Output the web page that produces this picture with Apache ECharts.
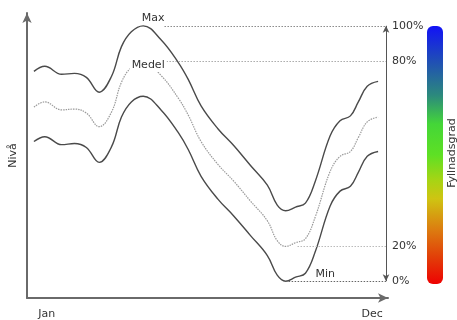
<!DOCTYPE html>
<html>
<head>
<meta charset="utf-8">
<script src="https://cdn.jsdelivr.net/npm/echarts@6/dist/echarts.min.js"></script>
<style>html,body{margin:0;padding:0;background:#fff}#c{width:457px;height:320px}</style>
</head>
<body>
<div id="c"></div>
<script>
// Day of year for each sampled point
const days = [7, 18, 35, 48, 60, 73, 85.5, 95.5, 105.5, 117.5, 135.5, 153, 163, 176, 193, 209, 226, 243, 253, 261.5, 271.5, 281.5, 291.5, 306.5, 316.5, 327, 335, 344, 355];
// Level (Nivå), arbitrary units
const maxLevel = [79.5, 81.3, 78.5, 78.8, 77.4, 72.2, 77.8, 88.2, 93.4, 95.5, 90.6, 82.6, 76.7, 67.4, 59.4, 53.5, 46.5, 39.6, 32.6, 30.6, 31.9, 33.3, 41.0, 56.9, 62.2, 63.9, 68.8, 74.3, 76.0];
const medelLevel = [67.0, 68.8, 66.0, 66.3, 64.9, 60.1, 65.3, 75.7, 80.9, 83.0, 78.1, 70.1, 64.2, 54.9, 46.9, 41.0, 34.0, 27.1, 20.1, 18.1, 19.4, 20.8, 28.5, 44.4, 49.7, 51.4, 56.3, 61.8, 63.5];
const minLevel = [54.9, 56.6, 53.8, 54.2, 52.8, 47.6, 53.1, 63.5, 68.8, 70.8, 66.0, 58.0, 52.1, 42.7, 34.7, 28.8, 21.9, 14.9, 8.0, 5.9, 7.3, 8.7, 16.3, 32.3, 37.5, 39.2, 44.1, 49.7, 51.4];
// Tick labels
const monthLabels = ['Jan', 'Dec'];
const monthLabelDays = [20, 349];
const fillLabels = ['100%', '80%', '20%', '0%'];
const seriesNames = ['Max', 'Medel', 'Min'];
const axisTitle = 'Nivå';
const barTitle = 'Fyllnadsgrad';

const FONT = 'DejaVu Sans';
const pts = arr => days.map((d, i) => [d, arr[i]]);
const vMax = Math.max(...maxLevel), vMedelMax = Math.max(...medelLevel);
const vMedelMin = Math.min(...medelLevel), vMin = Math.min(...minLevel);
const rightX = 363;

function hLine(y, x0, label, color) {
  return [
    {coord: [x0, y], lineStyle: {color: color, type: [1.5, 1.5], width: 1},
     label: {show: true, position: 'end', formatter: label, color: '#333', fontFamily: FONT, fontSize: 11, distance: 6}},
    {coord: [rightX, y]}
  ];
}
function tag(name, x, y, bg) {
  return {coord: [x, y], symbol: 'circle', symbolSize: 0,
    label: {show: true, position: 'inside', formatter: name, color: '#333', fontFamily: FONT, fontSize: 11,
      backgroundColor: bg ? '#fff' : 'transparent', padding: [1, 2]}};
}

const chart = echarts.init(document.getElementById('c'), null, {renderer: 'canvas'});
chart.setOption({
  animation: false,
  grid: {left: 25, right: 69, top: 13, bottom: 19},
  xAxis: {
    type: 'value', min: 0, max: 365,
    axisLine: {lineStyle: {color: '#6a6a6a', width: 2}, symbol: ['none', 'arrow'], symbolSize: [7, 10]},
    axisTick: {show: false}, splitLine: {show: false},
    axisLabel: {customValues: monthLabelDays, formatter: v => monthLabels[monthLabelDays.indexOf(v)] || '',
      color: '#333', fontFamily: FONT, fontSize: 11, margin: 11}
  },
  yAxis: {
    type: 'value', min: 0, max: 100,
    name: axisTitle, nameLocation: 'middle', nameGap: 8, nameRotate: 90,
    nameTextStyle: {color: '#333', fontFamily: FONT, fontSize: 11},
    axisLine: {show: true, lineStyle: {color: '#6a6a6a', width: 2}, symbol: ['none', 'arrow'], symbolSize: [7, 10]},
    axisTick: {show: false}, splitLine: {show: false}, axisLabel: {show: false}
  },
  series: [
    {
      name: seriesNames[0], type: 'line', data: pts(maxLevel), smooth: 0.4, symbol: 'none',
      lineStyle: {color: '#4a4a4a', width: 1.4},
      markPoint: {data: [tag(seriesNames[0], 127.5, 98.3, false)]},
      markLine: {silent: true, symbol: ['none', 'none'],
        data: [hLine(vMax, 139, fillLabels[0], '#8a8a8a')]}
    },
    {
      name: seriesNames[1], type: 'line', data: pts(medelLevel), smooth: 0.4, symbol: 'none',
      lineStyle: {color: '#9a9a9a', width: 1.2, type: [1.5, 1]},
      z: 3,
      markPoint: {data: [tag(seriesNames[1], 122.5, 81.6, true)]},
      markLine: {silent: true, symbol: ['none', 'none'],
        data: [hLine(vMedelMax, 141, fillLabels[1], '#aaaaaa'),
               hLine(vMedelMin, 273.5, fillLabels[2], '#bbbbbb')]}
    },
    {
      name: seriesNames[2], type: 'line', data: pts(minLevel), smooth: 0.4, symbol: 'none',
      lineStyle: {color: '#4a4a4a', width: 1.4},
      markPoint: {data: [tag(seriesNames[2], 301.5, 8.3, false)]},
      markLine: {silent: true, symbol: ['none', 'none'],
        data: [hLine(vMin, 261.5, fillLabels[3], '#666666')]}
    },
    {
      type: 'line', data: [], silent: true,
      markLine: {silent: true, symbol: ['arrow', 'arrow'], symbolSize: [5, 7],
        data: [[{coord: [rightX, vMin], lineStyle: {color: '#555', type: 'solid', width: 1}, label: {show: false}},
                {coord: [rightX, vMax]}]]}
    }
  ],
  graphic: [
    {type: 'rect', shape: {x: 427, y: 26, width: 16, height: 258, r: 6},
     style: {fill: new echarts.graphic.LinearGradient(0, 0, 0, 1, [
       {offset: 0, color: '#1212f6'},
       {offset: 0.14, color: '#2050b4'},
       {offset: 0.27, color: '#2c8a7c'},
       {offset: 0.38, color: '#44d638'},
       {offset: 0.5, color: '#5ee024'},
       {offset: 0.6, color: '#a8d414'},
       {offset: 0.67, color: '#cfc412'},
       {offset: 0.79, color: '#dc7c10'},
       {offset: 0.9, color: '#e23c08'},
       {offset: 1, color: '#ee0202'}
     ])}},
    {type: 'text', x: 452, y: 153, rotation: Math.PI / 2,
     style: {text: barTitle, fill: '#333', font: '11px "DejaVu Sans"', align: 'center', verticalAlign: 'middle'}}
  ]
});
</script>
</body>
</html>
